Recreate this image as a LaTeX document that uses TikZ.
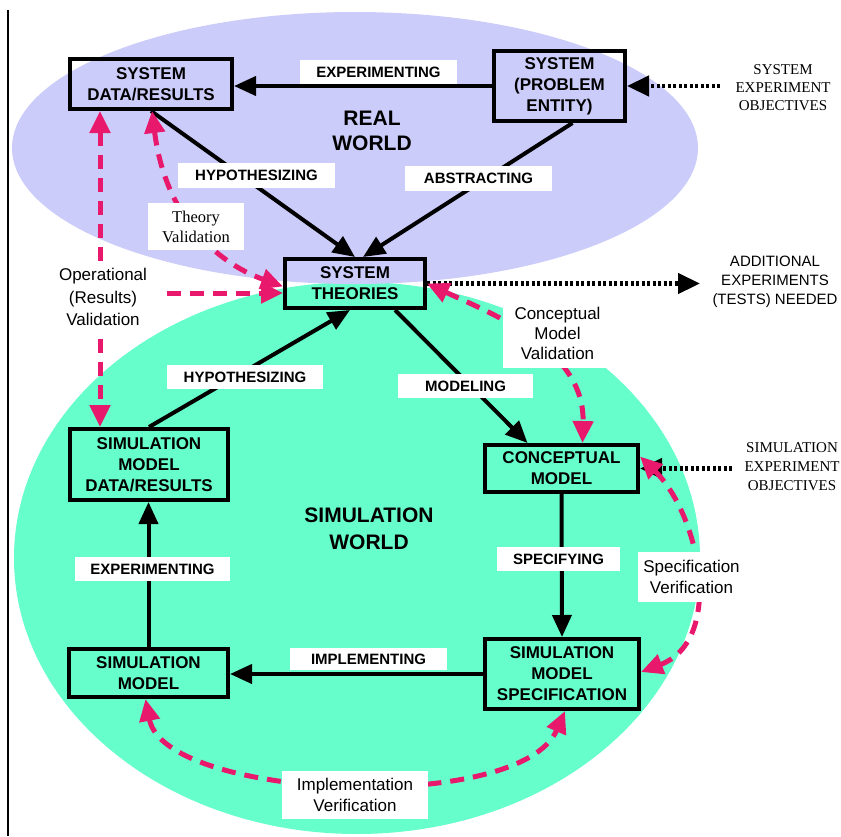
\documentclass[tikz,border=0pt]{standalone}
\usepackage{fontspec}
\setmainfont{Liberation Sans}
\newfontfamily\tms{Liberation Serif}
\usetikzlibrary{arrows.meta}
\definecolor{realblue}{RGB}{204,204,250}
\definecolor{simgreen}{RGB}{102,255,204}
\definecolor{vpink}{RGB}{232,24,108}
\begin{document}
\begin{tikzpicture}[x=1pt,y=-1pt,
  box/.style={draw,line width=4pt,align=center,inner sep=0pt,font=\fontsize{17}{21}\selectfont\bfseries},
  lbl/.style={fill=white,inner sep=0pt,align=center,font=\fontsize{15}{18}\selectfont\bfseries},
  nt/.style={fill=white,inner sep=0pt,align=center,font=\fontsize{17}{20.5}\selectfont},
  free/.style={inner sep=0pt,align=center},
  blk/.style={line width=4pt,-{Triangle[length=22pt,width=19pt]}},
  dotarr/.style={line width=4.5pt,dash pattern=on 3pt off 2.5pt,-{Triangle[length=22pt,width=20pt]}},
  pk/.style={vpink,line width=5pt,dash pattern=on 14pt off 9pt},
  pkb/.style={pk,{Triangle[length=22pt,width=20pt]}-{Triangle[length=22pt,width=20pt]}},
  pke/.style={pk,-{Triangle[length=22pt,width=20pt]}}]
\useasboundingbox (0,0) rectangle (841,836);
% worlds
\fill[simgreen] (357,558) ellipse [x radius=343pt, y radius=276pt];
\fill[realblue] (355,148) ellipse [x radius=343pt, y radius=136pt];
\draw[line width=1.2pt] (8,10) -- (8,836);
% boxes
\node[box,minimum width=162pt,minimum height=50pt] (data) at (151,84) {SYSTEM\\DATA/RESULTS};
\node[box,minimum width=131pt,minimum height=70pt] (sys) at (559.5,86) {SYSTEM\\(PROBLEM\\ENTITY)};
\node[box,minimum width=140pt,minimum height=49pt] (theo) at (355,283.5) {SYSTEM\\THEORIES};
\node[box,minimum width=158pt,minimum height=71pt] (simdata) at (149,464.5) {SIMULATION\\MODEL\\DATA/RESULTS};
\node[box,minimum width=153pt,minimum height=47pt] (concept) at (561.5,468.5) {CONCEPTUAL\\MODEL};
\node[box,minimum width=154pt,minimum height=70pt] (spec) at (562,674) {SIMULATION\\MODEL\\SPECIFICATION};
\node[box,minimum width=159pt,minimum height=48pt] (simmodel) at (148.5,673) {SIMULATION\\MODEL};
% world titles
\node[free,font=\fontsize{21}{25}\selectfont\bfseries] (rw) at (372,130.5) {REAL\\WORLD};
\node[free,font=\fontsize{21}{27}\selectfont\bfseries] (sw) at (369,529) {SIMULATION\\WORLD};
% outside texts
\node[free,font=\tms\fontsize{15}{18}\selectfont] (seo) at (783,88) {SYSTEM\\EXPERIMENT\\OBJECTIVES};
\node[free,font=\tms\fontsize{15}{19}\selectfont] (simeo) at (792,466.5) {SIMULATION\\EXPERIMENT\\OBJECTIVES};
\node[free,font=\fontsize{15}{19}\selectfont] (addx) at (775,282) {ADDITIONAL\\EXPERIMENTS\\(TESTS) NEEDED};
\coordinate (seoin) at (720,86);
\coordinate (addin) at (700,283.5);
\coordinate (simeoin) at (732,468.5);
\coordinate (opx) at (167,293);
% black process arrows
\draw[blk] (sys.west) -- (sys.west -| data.east);
\draw[blk] (data.south) -- (theo.north);
\draw[blk] ([xshift=13pt]sys.south) -- ([xshift=8pt]theo.north);
\draw[blk] (simdata.north) -- ([xshift=-5pt]theo.south);
\draw[blk] ([xshift=40pt]theo.south) -- ([xshift=-34pt]concept.north);
\draw[blk] (concept.south) -- (spec.north);
\draw[blk] (spec.west) -- (spec.west -| simmodel.east);
\draw[blk] (simmodel.north) -- (simmodel.north |- simdata.south);
% dotted
\draw[dotarr] (seoin) -- (sys.east);
\draw[dotarr] (theo.east) -- (addin);
\draw[dotarr] (simeoin) -- (concept.east);
% pink validation / verification
\draw[pkb] ([xshift=-51pt]data.south) -- ([xshift=-49pt]simdata.north);
\draw[pke] (opx) -- (opx -| theo.west);
\draw[pkb] ([xshift=1pt]data.south) .. controls (165,215) and (215,262) .. ([yshift=-3pt]theo.west);
\draw[pkb] (theo.east) .. controls (495,315) and (585,350) .. ([xshift=21pt]concept.north);
\draw[pkb] ([yshift=12pt]concept.east) .. controls (700,515) and (725,640) .. ([yshift=2pt]spec.east);
\draw[pkb] ([xshift=-3pt]simmodel.south) .. controls (165,800) and (520,815) .. ([xshift=3pt]spec.south);
% labels
\node[lbl,minimum width=157pt,minimum height=24pt] (lexp1) at (378.5,72) {EXPERIMENTING};
\node[lbl,minimum width=157pt,minimum height=25pt] (lhyp1) at (256.5,175.5) {HYPOTHESIZING};
\node[lbl,minimum width=147pt,minimum height=25pt] (labs) at (478.5,178.5) {ABSTRACTING};
\node[lbl,minimum width=156pt,minimum height=24pt] (lhyp2) at (245,377) {HYPOTHESIZING};
\node[lbl,minimum width=135pt,minimum height=24pt] (lmod) at (465.5,386) {MODELING};
\node[lbl,minimum width=155pt,minimum height=24pt] (lexp2) at (152.5,569) {EXPERIMENTING};
\node[lbl,minimum width=123pt,minimum height=24pt] (lspecif) at (558.5,559) {SPECIFYING};
\node[lbl,minimum width=157pt,minimum height=22pt] (limpl) at (368.5,659) {IMPLEMENTING};
\node[nt,minimum width=96pt,minimum height=47pt,font=\tms\fontsize{16.5}{20}\selectfont] (ltheory) at (196,226.5) {Theory\\Validation};
\node[nt,minimum width=90pt,minimum height=71pt,font=\fontsize{17}{22.5}\selectfont] (lop) at (103,297) {Operational\\(Results)\\Validation};
\node[nt,minimum width=109pt,minimum height=70pt,font=\fontsize{17}{20}\selectfont] (lconc) at (557.5,333) {Conceptual\\Model\\Validation};
\node[nt,minimum width=107pt,minimum height=50pt] (lspec) at (691.5,577) {Specification\\Verification};
\node[nt,minimum width=146pt,minimum height=48pt] (limplv) at (355,795) {Implementation\\Verification};
\end{tikzpicture}
\end{document}
